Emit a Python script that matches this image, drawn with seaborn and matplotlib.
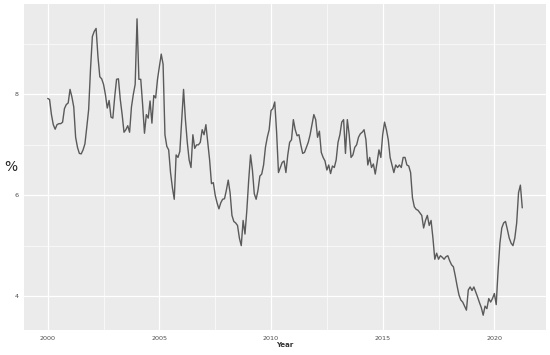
import numpy as np
import pandas as pd
import matplotlib
matplotlib.use('Agg')
import matplotlib.pyplot as plt
import seaborn as sns

# monthly values, Jan 2000 .. Apr 2021
rate_2000 = [7.92, 7.90, 7.60, 7.40, 7.31, 7.40, 7.42, 7.42, 7.45, 7.72, 7.80, 7.83]
rate_2001 = [8.10, 7.95, 7.75, 7.15, 6.95, 6.83, 6.82, 6.90, 7.02, 7.35, 7.70, 8.50]
rate_2002 = [9.15, 9.25, 9.31, 8.75, 8.35, 8.31, 8.20, 8.00, 7.73, 7.88, 7.55, 7.53]
rate_2003 = [7.95, 8.30, 8.31, 7.90, 7.60, 7.25, 7.30, 7.38, 7.25, 7.75, 8.00, 8.20]
rate_2004 = [9.50, 8.30, 8.30, 7.80, 7.23, 7.60, 7.53, 7.87, 7.43, 7.98, 7.93, 8.30]
rate_2005 = [8.55, 8.80, 8.60, 7.20, 6.97, 6.90, 6.45, 6.15, 5.92, 6.80, 6.75, 6.87]
rate_2006 = [7.50, 8.10, 7.50, 7.05, 6.70, 6.55, 7.20, 6.93, 7.00, 7.00, 7.05, 7.30]
rate_2007 = [7.20, 7.40, 7.05, 6.70, 6.23, 6.25, 6.00, 5.85, 5.73, 5.85, 5.92, 5.93]
rate_2008 = [6.10, 6.30, 6.05, 5.60, 5.48, 5.45, 5.40, 5.15, 5.00, 5.50, 5.23, 5.70]
rate_2009 = [6.30, 6.80, 6.50, 6.03, 5.92, 6.10, 6.38, 6.42, 6.60, 6.95, 7.15, 7.30]
rate_2010 = [7.68, 7.72, 7.85, 7.25, 6.45, 6.55, 6.65, 6.68, 6.45, 6.80, 7.05, 7.10]
rate_2011 = [7.50, 7.30, 7.18, 7.20, 7.00, 6.83, 6.85, 6.95, 7.05, 7.20, 7.40, 7.60]
rate_2012 = [7.50, 7.15, 7.27, 6.85, 6.75, 6.68, 6.50, 6.60, 6.43, 6.58, 6.55, 6.70]
rate_2013 = [7.05, 7.20, 7.45, 7.50, 6.83, 7.50, 7.20, 6.75, 6.80, 6.95, 7.00, 7.15]
rate_2014 = [7.22, 7.25, 7.30, 7.10, 6.60, 6.75, 6.55, 6.62, 6.42, 6.65, 6.90, 6.75]
rate_2015 = [7.20, 7.45, 7.30, 7.10, 6.75, 6.60, 6.45, 6.60, 6.55, 6.60, 6.55, 6.75]
rate_2016 = [6.75, 6.60, 6.58, 6.45, 5.95, 5.77, 5.72, 5.70, 5.65, 5.60, 5.35, 5.50]
rate_2017 = [5.60, 5.40, 5.50, 5.15, 4.73, 4.85, 4.73, 4.80, 4.77, 4.73, 4.78, 4.80]
rate_2018 = [4.70, 4.62, 4.58, 4.40, 4.20, 4.02, 3.92, 3.88, 3.80, 3.72, 4.12, 4.18]
rate_2019 = [4.11, 4.18, 4.08, 3.98, 3.87, 3.77, 3.62, 3.80, 3.75, 3.95, 3.88, 3.95]
rate_2020 = [4.05, 3.83, 4.50, 5.05, 5.35, 5.45, 5.48, 5.32, 5.15, 5.05, 5.00, 5.15]
rate_2021 = [5.45, 6.05, 6.20, 5.75]

values = (rate_2000 + rate_2001 + rate_2002 + rate_2003 + rate_2004 + rate_2005
          + rate_2006 + rate_2007 + rate_2008 + rate_2009 + rate_2010 + rate_2011
          + rate_2012 + rate_2013 + rate_2014 + rate_2015 + rate_2016 + rate_2017
          + rate_2018 + rate_2019 + rate_2020 + rate_2021)

x_ticks = [2000, 2005, 2010, 2015, 2020]
y_ticks = [4, 6, 8]

df = pd.DataFrame({'Year': 2000 + np.arange(len(values)) / 12, 'Rate': values})

sns.set_style('darkgrid', {'axes.facecolor': '#EBEBEB', 'grid.color': 'white'})

fig = plt.figure(figsize=(5.5, 3.55), dpi=100)
ax = fig.add_axes([0.0436, 0.0704, 0.9491, 0.9183])

sns.lineplot(data=df, x='Year', y='Rate', color='#5a5a5a', linewidth=1.0, ax=ax)

# ggplot-like 5% expansion
xmin, xmax = df['Year'].min(), df['Year'].max()
ymin, ymax = df['Rate'].min(), df['Rate'].max()
ax.set_xlim(xmin - 0.05 * (xmax - xmin), xmax + 0.05 * (xmax - xmin))
ax.set_ylim(ymin - 0.05 * (ymax - ymin), ymax + 0.05 * (ymax - ymin))

ax.set_xticks(x_ticks)
ax.set_yticks(y_ticks)
ax.set_xticks([2002.5, 2007.5, 2012.5, 2017.5], minor=True)
ax.set_yticks([5, 7, 9], minor=True)
ax.grid(which='major', color='white', linewidth=0.9)
ax.grid(which='minor', color='white', linewidth=0.45)
ax.tick_params(which='major', length=2, width=0.5, color='#333333',
               labelsize=4.6, labelcolor='#4D4D4D', pad=2)
ax.tick_params(which='minor', length=0)
for s in ax.spines.values():
    s.set_visible(False)

ax.set_xlabel('Year', fontsize=5, fontweight='bold', color='#333333', labelpad=1)
ax.set_ylabel('%', fontsize=10, rotation=0, color='#222222', va='center', ha='center')
ax.yaxis.set_label_coords(-0.025, 0.5)

fig.savefig('out.png', dpi=100)
